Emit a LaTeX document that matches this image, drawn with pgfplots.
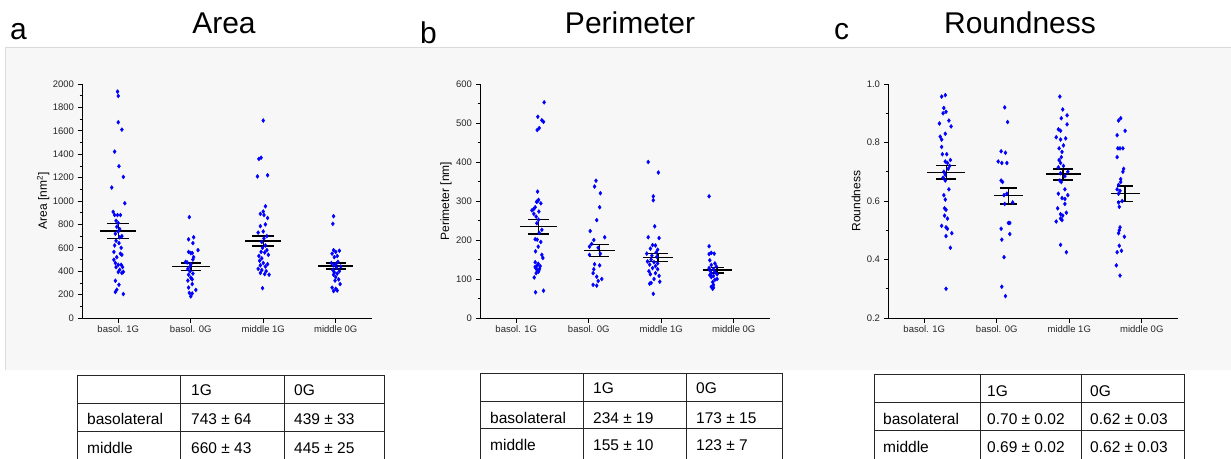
\documentclass[border=0pt]{standalone}
\usepackage{fontspec}
\setmainfont{Liberation Sans}
\usepackage{pgfplots}
\pgfplotsset{compat=1.18}
\definecolor{panelbg}{HTML}{F7F7F7}
\definecolor{panelline}{HTML}{DADADA}

\pgfplotsset{
  dots/.style={only marks, mark=diamond*, mark size=2pt, color=blue, mark options={draw=blue, fill=blue}},
  mn/.style={black, line width=1.5pt, unbounded coords=jump, mark=none},
  panel/.style={
    scale only axis, width=290pt, height=234pt, anchor=south west,
    axis x line*=bottom, axis y line*=left,
    xmin=0.5, xmax=4.5, xtick={1,2,3,4},
    xticklabels={basol. 1G, basol. 0G, middle 1G, middle 0G},
    tick align=outside, major tick length=4.5pt, minor tick length=2.5pt,
    minor y tick num=1,
    tick style={black, line width=0.7pt},
    axis line style={black, line width=0.8pt},
    ticklabel style={font=\fontsize{9.5}{11}\selectfont, color=black!85},
    /pgf/number format/assume math mode=true,
    /pgf/number format/1000 sep={},
    label style={font=\fontsize{12}{14}\selectfont},
    clip=false,
  },
}

\begin{document}
\begin{tikzpicture}
\path[use as bounding box] (0pt,0pt) rectangle (1231pt,-458pt);
% grey panel
\fill[panelbg] (5pt,-47pt) rectangle (1231pt,-370pt);
\draw[panelline, line width=0.8pt] (5pt,-370pt) -- (5pt,-47pt) -- (1231pt,-47pt);

% titles and panel letters
\node[anchor=base, font=\fontsize{30}{36}\selectfont] at (224pt,-33pt) {Area};
\node[anchor=base, font=\fontsize{30}{36}\selectfont] at (630pt,-33pt) {Perimeter};
\node[anchor=base, font=\fontsize{30}{36}\selectfont] at (1020pt,-33pt) {Roundness};
\node[anchor=base west, inner sep=0pt, font=\fontsize{30}{36}\selectfont] at (10pt,-39pt) {a};
\node[anchor=base west, inner sep=0pt, font=\fontsize{30}{36}\selectfont] at (420pt,-43pt) {b};
\node[anchor=base west, inner sep=0pt, font=\fontsize{30}{36}\selectfont] at (834pt,-39pt) {c};

% ---------------- Area ----------------
\begin{axis}[panel, at={(82pt,-318pt)},
  ymin=0, ymax=2000, ytick distance=200,
  ylabel={Area [nm\textsuperscript{2}]},
  ylabel style={at={(axis description cs:-0.134,0.5)}, anchor=center}]
\addplot[dots] coordinates {
(0.99,1935) (1.00,1898) (1.00,1673) (1.05,1610) (0.95,1422) (1.01,1297) (1.07,1206) (0.91,1115)
(1.09,981) (0.93,907) (0.95,880) (0.99,880) (1.03,880) (0.97,831) (1.00,811) (0.98,780) (1.02,760)
(1.00,740) (0.96,720) (1.05,700) (1.02,690) (0.97,660) (1.01,640) (0.95,620) (1.04,600) (0.94,565)
(1.03,550) (1.05,540) (0.98,520) (0.94,498) (0.96,470) (1.00,455) (1.04,455) (0.97,435) (1.06,435)
(1.02,412) (1.00,393) (1.07,395) (1.05,385) (0.96,318) (1.01,284) (0.98,242) (0.96,222) (1.07,205)};
\addplot[dots] coordinates {
(1.98,862) (2.04,690) (1.97,672) (2.03,640) (2.10,580) (1.97,565) (2.00,555) (2.02,555) (2.04,520)
(2.03,500) (1.93,480) (1.95,475) (2.00,460) (1.99,440) (1.96,420) (1.99,400) (2.03,380) (1.97,370)
(2.00,345) (2.02,330) (1.96,320) (2.02,290) (1.97,260) (2.07,240) (1.98,215) (2.02,210) (2.00,185)};
\addplot[dots] coordinates {
(3.00,1688) (2.97,1370) (2.94,1360) (3.06,1220) (2.92,1210) (3.03,955) (3.00,910) (2.96,890) (3.01,880)
(3.06,855) (3.03,800) (2.96,785) (3.00,740) (2.93,730) (3.05,700) (3.01,680) (2.98,650) (3.03,620)
(2.99,600) (3.05,580) (2.97,565) (3.02,560) (3.07,540) (2.94,530) (2.98,510) (2.95,490) (3.00,470)
(3.06,460) (2.96,450) (3.03,440) (2.93,420) (2.98,410) (3.04,400) (2.96,385) (3.02,375) (3.08,370) (2.99,255)};
\addplot[dots] coordinates {
(3.97,870) (3.96,805) (3.97,580) (4.05,575) (4.00,565) (3.95,550) (4.02,530) (3.98,520) (4.03,480)
(3.94,470) (4.00,460) (3.97,450) (4.07,440) (4.01,430) (3.96,410) (4.05,400) (3.98,390) (4.02,380)
(3.97,370) (4.00,350) (4.04,330) (3.99,320) (4.06,290) (3.95,260) (4.00,250) (4.02,235) (3.97,230)};
% mean +- SEM
\addplot[mn] coordinates {
(0.75,743)(1.25,743)(1,nan)(0.85,807)(1.15,807)(1,nan)(0.85,679)(1.15,679)(1,nan)(1,679)(1,807)(1,nan)
(1.74,439)(2.26,439)(2,nan)(1.86,472)(2.14,472)(2,nan)(1.86,406)(2.14,406)(2,nan)(2,406)(2,472)(2,nan)
(2.75,660)(3.25,660)(3,nan)(2.85,703)(3.15,703)(3,nan)(2.85,617)(3.15,617)(3,nan)(3,617)(3,703)(3,nan)
(3.76,445)(4.24,445)(4,nan)(3.86,470)(4.14,470)(4,nan)(3.86,420)(4.14,420)(4,nan)(4,420)(4,470)};
\end{axis}

% ---------------- Perimeter ----------------
\begin{axis}[panel, at={(480pt,-318pt)},
  ymin=0, ymax=600, ytick distance=100,
  ylabel={Perimeter [nm]},
  ylabel style={at={(axis description cs:-0.117,0.5)}, anchor=center}]
\addplot[dots] coordinates {
(1.385,553) (1.298,516) (1.353,507) (1.376,503) (1.317,487) (1.289,482) (1.294,324) (1.307,303)
(1.294,299) (1.339,294) (1.261,284) (1.239,279) (1.216,276) (1.312,273) (1.243,267) (1.275,260)
(1.307,252) (1.284,243) (1.353,226) (1.317,218) (1.261,202) (1.289,201) (1.339,195) (1.303,183)
(1.266,171) (1.353,162) (1.367,154) (1.261,143) (1.303,139) (1.261,131) (1.321,126) (1.284,124)
(1.307,119) (1.275,115) (1.248,104) (1.376,70) (1.266,66) (1.29,135) (1.33,133) (1.27,128) (1.31,122) (1.28,298)};
\addplot[dots] coordinates {
(2.10,352) (2.08,337) (2.16,320) (2.15,284) (2.11,251) (2.02,223) (2.22,207) (2.07,200) (2.04,190)
(2.01,183) (2.13,180) (2.16,165) (2.01,162) (2.08,138) (2.15,135) (2.07,125) (2.06,115) (2.11,106)
(2.18,100) (2.13,95) (2.06,85) (2.11,83)};
\addplot[dots] coordinates {
(2.82,400) (2.96,373) (2.89,312) (2.89,302) (2.91,235) (2.82,207) (2.97,205) (2.88,187) (2.92,186)
(2.85,178) (2.95,175) (2.93,168) (2.80,165) (2.87,160) (2.94,157) (2.86,150) (2.81,145) (2.90,143)
(2.95,140) (2.84,137) (2.92,133) (2.88,128) (2.95,125) (2.83,120) (2.92,115) (2.85,112) (2.97,108)
(2.90,100) (2.98,93) (2.86,90) (2.84,88) (2.89,62)};
\addplot[dots] coordinates {
(3.66,312) (3.66,184) (3.69,167) (3.73,165) (3.66,164) (3.67,148) (3.74,140) (3.69,136) (3.76,132)
(3.66,128) (3.72,125) (3.67,122) (3.74,118) (3.69,115) (3.77,112) (3.67,110) (3.72,108) (3.69,105)
(3.77,100) (3.74,98) (3.71,92) (3.72,85) (3.69,80) (3.72,78) (3.71,75)};
\addplot[mn] coordinates {
(1.057,234)(1.557,234)(1,nan)(1.167,253)(1.447,253)(1,nan)(1.167,215)(1.447,215)(1,nan)(1.307,215)(1.307,253)(1,nan)
(1.937,173)(2.357,173)(2,nan)(2.017,188)(2.277,188)(2,nan)(2.017,158)(2.277,158)(2,nan)(2.147,158)(2.147,188)(2,nan)
(2.744,155)(3.164,155)(3,nan)(2.814,165)(3.094,165)(3,nan)(2.814,145)(3.094,145)(3,nan)(2.954,145)(2.954,165)(3,nan)
(3.57,123)(3.97,123)(4,nan)(3.68,130)(3.86,130)(4,nan)(3.68,116)(3.86,116)(4,nan)(3.77,116)(3.77,130)};
\end{axis}

% ---------------- Roundness ----------------
\begin{axis}[panel, at={(888pt,-318pt)},
  ymin=0.2, ymax=1.0, ytick={0.2,0.4,0.6,0.8,1.0},
  yticklabel style={/pgf/number format/.cd, fixed, fixed zerofill, precision=1},
  ylabel={Roundness},
  ylabel style={at={(axis description cs:-0.110,0.5)}, anchor=center}]
\addplot[dots] coordinates {
(1.29,0.962) (1.24,0.957) (1.27,0.918) (1.30,0.905) (1.26,0.900) (1.34,0.875) (1.21,0.865) (1.37,0.855)
(1.29,0.830) (1.22,0.820) (1.24,0.810) (1.24,0.785) (1.25,0.760) (1.31,0.760) (1.36,0.740) (1.29,0.735)
(1.32,0.730) (1.35,0.720) (1.27,0.700) (1.29,0.690) (1.29,0.670) (1.34,0.640) (1.27,0.620) (1.29,0.605)
(1.28,0.575) (1.30,0.570) (1.28,0.550) (1.32,0.540) (1.24,0.515) (1.30,0.510) (1.32,0.505) (1.38,0.490)
(1.30,0.480) (1.36,0.440) (1.30,0.300) (1.33,0.710) (1.26,0.680)};
\addplot[dots] coordinates {
(2.11,0.920) (2.15,0.870) (2.06,0.770) (2.12,0.765) (2.02,0.735) (2.07,0.730) (2.14,0.730) (2.06,0.670)
(2.08,0.665) (2.10,0.620) (2.14,0.625) (2.22,0.595) (2.11,0.590) (2.16,0.525) (2.18,0.525) (2.06,0.505)
(2.18,0.487) (2.07,0.468) (2.10,0.408) (2.07,0.307) (2.12,0.275)};
\addplot[dots] coordinates {
(2.87,0.957) (2.91,0.913) (2.97,0.893) (2.89,0.883) (2.97,0.862) (2.85,0.845) (2.88,0.840) (2.82,0.818)
(2.95,0.814) (2.88,0.810) (2.92,0.790) (2.86,0.780) (2.90,0.768) (2.89,0.750) (2.86,0.740) (2.88,0.730)
(2.92,0.720) (2.85,0.715) (2.98,0.700) (2.88,0.695) (2.94,0.685) (2.87,0.670) (2.89,0.665) (2.94,0.640)
(2.85,0.625) (2.98,0.620) (2.90,0.610) (2.94,0.607) (2.94,0.590) (2.84,0.575) (2.96,0.560) (2.88,0.555)
(2.91,0.550) (2.88,0.540) (2.90,0.535) (2.82,0.530) (2.88,0.450) (2.96,0.425)};
\addplot[dots] coordinates {
(3.71,0.883) (3.68,0.875) (3.77,0.840) (3.66,0.825) (3.67,0.780) (3.70,0.780) (3.74,0.780) (3.66,0.750)
(3.75,0.710) (3.74,0.700) (3.71,0.675) (3.71,0.665) (3.68,0.655) (3.66,0.640) (3.70,0.635) (3.68,0.625)
(3.73,0.600) (3.68,0.595) (3.69,0.580) (3.70,0.510) (3.69,0.500) (3.68,0.490) (3.76,0.478) (3.69,0.447)
(3.72,0.430) (3.66,0.425) (3.65,0.380) (3.70,0.345)};
\addplot[mn] coordinates {
(1.044,0.698)(1.564,0.698)(1,nan)(1.164,0.722)(1.444,0.722)(1,nan)(1.164,0.676)(1.444,0.676)(1,nan)(1.304,0.676)(1.304,0.722)(1,nan)
(1.961,0.618)(2.361,0.618)(2,nan)(2.041,0.645)(2.281,0.645)(2,nan)(2.041,0.589)(2.281,0.589)(2,nan)(2.161,0.589)(2.161,0.645)(2,nan)
(2.677,0.692)(3.157,0.692)(3,nan)(2.777,0.710)(3.057,0.710)(3,nan)(2.777,0.672)(3.057,0.672)(3,nan)(2.917,0.672)(2.917,0.710)(3,nan)
(3.57,0.625)(3.97,0.625)(4,nan)(3.66,0.652)(3.88,0.652)(4,nan)(3.66,0.598)(3.88,0.598)(4,nan)(3.77,0.598)(3.77,0.652)};
\end{axis}

% ---------------- tables ----------------
\begin{scope}[line width=1pt, draw=black!85]
\draw (77pt,-460pt) -- (77pt,-375pt) -- (384pt,-375pt) -- (384pt,-460pt);
\draw (180pt,-375pt) -- (180pt,-460pt);
\draw (284pt,-375pt) -- (284pt,-460pt);
\draw (77pt,-403pt) -- (384pt,-403pt);
\draw (77pt,-431pt) -- (384pt,-431pt);

\draw (480pt,-460pt) -- (480pt,-373pt) -- (782pt,-373pt) -- (782pt,-460pt);
\draw (583pt,-373pt) -- (583pt,-460pt);
\draw (686pt,-373pt) -- (686pt,-460pt);
\draw (480pt,-401pt) -- (782pt,-401pt);
\draw (480pt,-428pt) -- (782pt,-428pt);

\draw (874pt,-460pt) -- (874pt,-374pt) -- (1184pt,-374pt) -- (1184pt,-460pt);
\draw (980pt,-374pt) -- (980pt,-460pt);
\draw (1081pt,-374pt) -- (1081pt,-460pt);
\draw (874pt,-402pt) -- (1184pt,-402pt);
\draw (874pt,-430pt) -- (1184pt,-430pt);
\end{scope}

\begin{scope}[every node/.style={anchor=base west, inner sep=0pt, font=\fontsize{15.5}{18}\selectfont}]
\node at (191pt,-395pt) {1G};
\node at (294pt,-395pt) {0G};
\node at (87pt,-424pt) {basolateral};
\node at (191pt,-424pt) {743 ± 64};
\node at (294pt,-424pt) {439 ± 33};
\node at (87pt,-453pt) {middle};
\node at (191pt,-453pt) {660 ± 43};
\node at (294pt,-453pt) {445 ± 25};

\node at (593pt,-393pt) {1G};
\node at (696pt,-393pt) {0G};
\node at (490pt,-423pt) {basolateral};
\node at (593pt,-423pt) {234 ± 19};
\node at (696pt,-423pt) {173 ± 15};
\node at (490pt,-450pt) {middle};
\node at (593pt,-450pt) {155 ± 10};
\node at (696pt,-450pt) {123 ± 7};

\node at (987pt,-396pt) {1G};
\node at (1090pt,-396pt) {0G};
\node at (883pt,-424pt) {basolateral};
\node at (987pt,-424pt) {0.70 ± 0.02};
\node at (1090pt,-424pt) {0.62 ± 0.03};
\node at (883pt,-452pt) {middle};
\node at (987pt,-452pt) {0.69 ± 0.02};
\node at (1090pt,-452pt) {0.62 ± 0.03};
\end{scope}
\end{tikzpicture}
\end{document}
